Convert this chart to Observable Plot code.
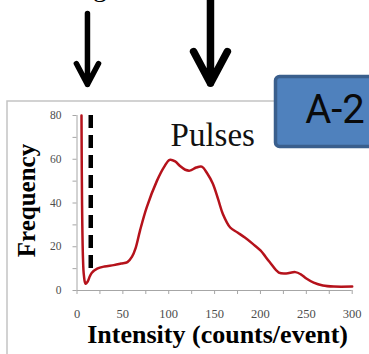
<!DOCTYPE html>
<html><head><meta charset="utf-8">
<script src="https://cdn.jsdelivr.net/npm/d3@7"></script>
<script src="https://cdn.jsdelivr.net/npm/@observablehq/plot@0.6"></script>
<style>
html,body{margin:0;padding:0;background:#fff;overflow:hidden}
#chart{position:relative;width:369px;height:354px}
</style></head><body><div id="chart"></div>
<script>
// Curve values
const intensity = [4.9, 5.5, 6.5, 7.5, 9.3, 11.5, 14, 16, 22, 30, 40, 48, 55, 60, 64, 68.7, 76, 87, 95, 101, 107, 112, 118, 123, 130, 136, 142, 148, 154, 159, 167, 175, 183, 192, 200, 210, 220, 228, 238, 244, 250, 258, 268, 280, 300];
const frequency = [80, 40, 15, 7, 3.1, 4, 6.5, 8, 10, 11, 11.6, 12.3, 13, 15.5, 19.5, 27.4, 38, 50, 56.5, 59.7, 59, 57, 55.2, 54.8, 56.2, 56.6, 53.5, 48.9, 41.5, 35, 28.8, 26.5, 24.2, 21.2, 18.3, 13, 8.2, 7.8, 8.4, 7.4, 5.5, 3.6, 2.3, 1.8, 1.8];

const xTicks = [0, 25, 50, 75, 100, 125, 150, 175, 200, 225, 250, 275, 300];
const xTickLabels = [0, 50, 100, 150, 200, 250, 300];
const yTicks = [0, 10, 20, 30, 40, 50, 60, 70, 80];
const yTickLabels = [0, 20, 40, 60, 80];

// threshold (dashed line)
const thresholdX = [15];
const thresholdFrom = 80, thresholdTo = 7.8;

// annotation arrows (data coordinates)
const leftArrow = [{x: 11.4, y1: 126.6, y2: 94.2}];
const rightArrow = [{x: 145.5, y1: 150.9, y2: 94.7}];

const pulsesLabel = [{text: "Pulses", x: 102, y: 70.9}];
const xLabel = "Intensity (counts/event)";
const yLabel = "Frequency";
const panelLabel = "A-2";

const data = intensity.map((x, i) => ({x, y: frequency[i]}));

const serif = "'Liberation Serif','Times New Roman',serif";

const svg = Plot.plot({
  width: 369, height: 354,
  marginLeft: 76.5, marginRight: 17.3, marginTop: 115, marginBottom: 64,
  style: {background: "transparent", color: "#4d4d4d", fontFamily: serif, overflow: "visible"},
  x: {domain: [0, 300], ticks: xTicks, tickFormat: d => xTickLabels.includes(d) ? String(d) : "", tickSize: 4, tickPadding: 15, label: null},
  y: {domain: [0, 80], ticks: yTicks, tickFormat: d => yTickLabels.includes(d) ? String(d) : "", tickSize: 4, tickPadding: 11.5, label: null},
  marks: [
    Plot.ruleX([0], {stroke: "#a6a6a6", strokeWidth: 1}),
    Plot.ruleY([0], {stroke: "#a6a6a6", strokeWidth: 1}),
    Plot.ruleX(thresholdX, {x: d => d, y1: thresholdFrom, y2: thresholdTo, stroke: "#000", strokeWidth: 4.5, strokeDasharray: "13,7"}),
    Plot.line(data, {x: "x", y: "y", curve: "catmull-rom", stroke: "#b5121b", strokeWidth: 2.5}),
    Plot.text(pulsesLabel, {x: "x", y: "y", text: "text", textAnchor: "start", fontSize: 33, fontFamily: serif, fill: "#111"}),
    Plot.text([yLabel], {frameAnchor: "left", text: d => d, textAnchor: "middle", lineAnchor: "middle", rotate: -90, dx: -50.5, dy: -2.5, fontSize: 25, fontWeight: "bold", fontFamily: serif, fill: "#000"}),
    Plot.text([xLabel], {frameAnchor: "bottom", text: d => d, textAnchor: "middle", lineAnchor: "middle", dx: 3, dy: 44.5, fontSize: 26, fontWeight: "bold", fontFamily: serif, fill: "#000"}),
    Plot.arrow(leftArrow, {x: "x", y1: "y1", y2: "y2", strokeWidth: 5.5, stroke: "#000", headLength: 7.1, headAngle: 56}),
    Plot.arrow(rightArrow, {x: "x", y1: "y1", y2: "y2", strokeWidth: 7.5, stroke: "#000", headLength: 7.2, headAngle: 56})
  ]
});
document.getElementById("chart").appendChild(svg);

const s = d3.select(svg);
s.selectAll("text").filter(function() { return this.textContent.trim() === ""; }).remove();
s.selectAll('g[aria-label^="x-axis"] text').style("font-size", "12.5px").attr("fill", "#4d4d4d");
s.selectAll('g[aria-label^="y-axis"] text').style("font-size", "11.5px").attr("fill", "#4d4d4d");
s.selectAll('g[aria-label^="x-axis"] path, g[aria-label^="x-axis"] line, g[aria-label^="y-axis"] path, g[aria-label^="y-axis"] line').attr("stroke", "#a6a6a6");

// slide frame behind the chart
s.insert("rect", ":first-child")
  .attr("x", 7).attr("y", 101).attr("width", 420).attr("height", 320)
  .attr("fill", "none").attr("stroke", "#c4c4c4").attr("stroke-width", 1.5);

// panel label box
s.append("rect").attr("x", 275.5).attr("y", 76.5).attr("width", 120).attr("height", 70).attr("rx", 4)
  .attr("fill", "#4f81bd").attr("stroke", "#3a5f8d").attr("stroke-width", 3.5);
s.append("text").attr("x", 335).attr("y", 123).attr("text-anchor", "middle")
  .attr("font-family", "Roboto, 'Liberation Sans', sans-serif").attr("font-size", 40).attr("fill", "#0a0a0a").text(panelLabel);

// cut-off letter at the top
s.append("text").attr("x", 100).attr("y", -4).attr("text-anchor", "middle")
  .attr("font-family", serif).attr("font-size", 28).attr("fill", "#000").text("g");
</script></body></html>
